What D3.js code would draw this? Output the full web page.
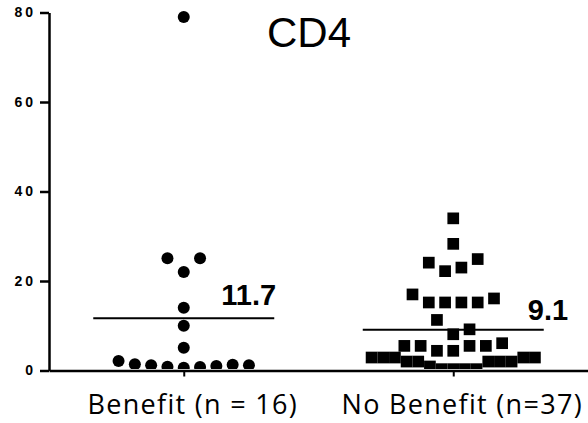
<!DOCTYPE html>
<html>
<head>
<meta charset="utf-8">
<script src="https://cdn.jsdelivr.net/npm/d3@7"></script>
<style>
  html, body { margin: 0; padding: 0; background: #fff; }
  svg { display: block; }
</style>
</head>
<body>
<svg id="chart" width="588" height="423"></svg>
<script>
// CD4 values per response group (each point is one patient)
const groups = ["Benefit (n = 16)", "No Benefit (n=37)"];
const benefit = [0.6, 0.8, 0.85, 1.0, 1.2, 1.3, 1.4, 1.2, 2.1, 5.1, 10, 14, 22, 25.1, 25.1, 79];
const noBenefit = [
  0.3, 0.3, 0.3, 0.3, 0.9, 2.0, 2.0, 2.0, 2.0, 2.0, 2.9, 2.9, 2.9, 2.9, 2.9,
  4.4, 5.5, 4.4, 5.5, 5.5, 6.1, 5.5,
  8.1, 9.2, 11.3,
  15.2, 15.2, 15.2, 15.2, 16.1, 17.0,
  23.0, 22.2, 24.9, 24.1,
  28.3, 34
];
const means = [11.7, 9.1];
const meanLabels = ["11.7", "9.1"];
const yTicks = [0, 20, 40, 60, 80];
const title = "CD4";

// ---- layout ----
const plot = {left: 49, right: 588, top: 12.5, bottom: 370.5};
const meanHalf = 90.5;
// label placement relative to the right end of each mean line
const meanLabelPos = [{dx: -53, dy: -13}, {dx: -16, dy: -10}];

const svg = d3.select("#chart");

const x = d3.scalePoint().domain(groups).range([plot.left, plot.right]).padding(0.5);
const y = d3.scaleLinear().domain([0, 80]).range([plot.bottom, plot.top]);

// Scatter layout: values close together share a row, spread sideways
// around the group centre in data order (0, +1, -1, +2, -2 ...).
function spread(values, step, maxWidth, rowSpan) {
  const order = values.map((v, i) => i).sort((a, b) => values[a] - values[b] || a - b);
  const rows = [];
  let cur = null;
  order.forEach(i => {
    if (!cur || values[i] - cur.start > rowSpan) {
      cur = {start: values[i], items: []};
      rows.push(cur);
    }
    cur.items.push(i);
  });
  const off = new Array(values.length);
  rows.forEach(r => {
    r.items.sort((a, b) => a - b);
    const n = r.items.length;
    const s = Math.min(step, maxWidth / n);
    r.items.forEach((i, k) => {
      let slot;
      if (n % 2) slot = k === 0 ? 0 : (k % 2 ? 1 : -1) * Math.ceil(k / 2);
      else slot = (k % 2 ? -1 : 1) * (Math.floor(k / 2) + 0.5);
      off[i] = slot * s;
    });
  });
  return off;
}

const series = [
  {group: groups[0], values: benefit, symbol: d3.symbolCircle, size: Math.PI * 36},
  {group: groups[1], values: noBenefit, symbol: d3.symbolSquare, size: 11.7 * 11.7}
];

svg.append("defs").append("clipPath").attr("id", "plot-clip")
  .append("rect").attr("x", plot.left).attr("y", 0)
  .attr("width", plot.right - plot.left).attr("height", plot.bottom - 1.5);

const pts = svg.append("g").attr("clip-path", "url(#plot-clip)");
series.forEach(s => {
  const off = spread(s.values, 16.3, 175, 3.5);
  pts.selectAll(null)
    .data(s.values.map((v, i) => ({v, dx: off[i]})))
    .join("path")
    .attr("d", d3.symbol(s.symbol, s.size))
    .attr("transform", d => `translate(${x(s.group) + d.dx},${y(d.v)})`)
    .attr("fill", "#000");
});

// mean lines with their values
groups.forEach((g, i) => {
  const cx = x(g), ym = y(means[i]);
  svg.append("line")
    .attr("x1", cx - meanHalf).attr("x2", cx + meanHalf)
    .attr("y1", ym).attr("y2", ym)
    .attr("stroke", "#000").attr("stroke-width", 2);
  svg.append("text")
    .attr("x", cx + meanHalf + meanLabelPos[i].dx)
    .attr("y", ym + meanLabelPos[i].dy)
    .attr("font-family", "Liberation Sans, Arial, sans-serif")
    .attr("font-weight", "bold")
    .attr("font-size", 29)
    .attr("fill", "#000")
    .text(meanLabels[i]);
});

// y axis
const yAxis = svg.append("g").attr("transform", `translate(${plot.left},0)`)
  .call(d3.axisLeft(y).tickValues(yTicks).tickSize(9).tickSizeOuter(0).tickPadding(4));
yAxis.select(".domain").attr("stroke-width", 2.5);
yAxis.selectAll(".tick line").attr("stroke-width", 2.5);
yAxis.selectAll(".tick text")
  .attr("font-family", "Liberation Sans, Arial, sans-serif")
  .attr("font-weight", "bold")
  .attr("font-size", 14)
  .attr("letter-spacing", 3)
  .attr("fill", "#000");

// x axis
const xAxis = svg.append("g").attr("transform", `translate(0,${plot.bottom})`)
  .call(d3.axisBottom(x).tickSize(6).tickSizeOuter(0).tickFormat(""));
xAxis.select(".domain").attr("stroke-width", 2.5);
xAxis.selectAll(".tick line").attr("stroke-width", 2);

svg.selectAll(null).data(groups).join("text")
  .attr("x", d => x(d) + 9)
  .attr("y", 414)
  .attr("text-anchor", "middle")
  .attr("font-family", "'Open Sans', sans-serif")
  .attr("font-size", 27)
  .attr("letter-spacing", 1.3)
  .attr("fill", "#000")
  .text(d => d);

// title
svg.append("text")
  .attr("x", 309).attr("y", 47)
  .attr("text-anchor", "middle")
  .attr("font-family", "Liberation Sans, Arial, sans-serif")
  .attr("font-size", 42)
  .attr("fill", "#000")
  .text(title);
</script>
</body>
</html>
